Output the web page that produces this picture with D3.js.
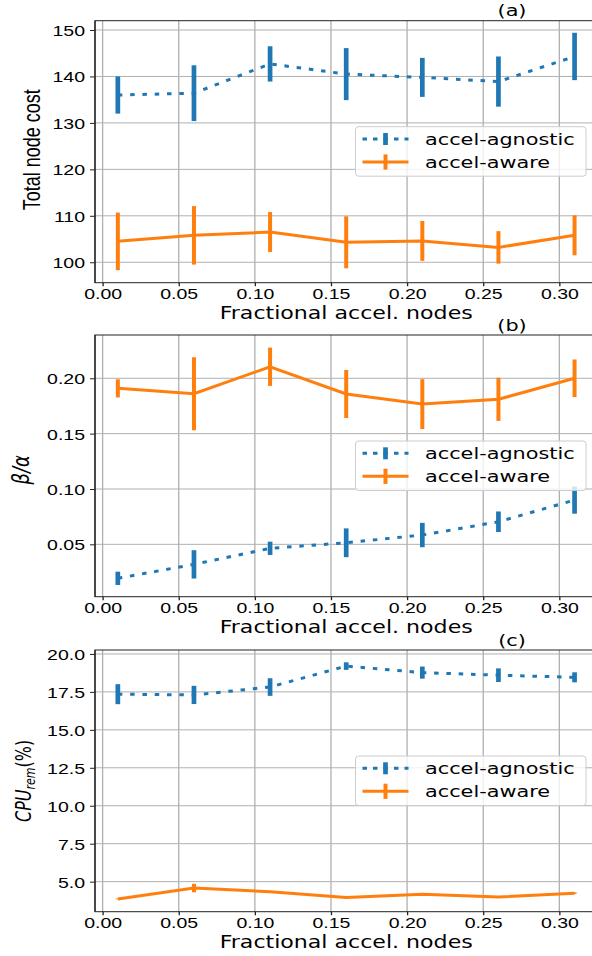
<!DOCTYPE html>
<meta charset="utf-8">
<script src="https://d3js.org/d3.v7.min.js"></script>
<style>
  body { margin: 0; background: #fff; }
</style>
<div id="chart"></div>
<script>

// x positions (fraction of accelerated nodes)
var xs = [0.01, 0.06, 0.11, 0.16, 0.21, 0.26, 0.31];
var xTicks = [0.00, 0.05, 0.10, 0.15, 0.20, 0.25, 0.30];

// (a) total node cost
var costAgnostic    = [136.0, 136.4, 142.7, 140.5, 139.8, 138.9, 144.3];
var costAgnosticErr = [4.0, 6.0, 3.8, 5.6, 4.2, 5.4, 5.1];
var costAware       = [104.5, 105.8, 106.5, 104.3, 104.6, 103.2, 105.8];
var costAwareErr    = [6.2, 6.3, 4.3, 5.6, 4.3, 3.5, 4.3];
var costTicks = [100, 110, 120, 130, 140, 150];

// (b) beta / alpha
var ratioAgnostic    = [0.0193, 0.0319, 0.0464, 0.0514, 0.0584, 0.0704, 0.0900];
var ratioAgnosticErr = [0.0060, 0.0128, 0.0060, 0.0130, 0.0110, 0.0093, 0.0123];
var ratioAware       = [0.1909, 0.1860, 0.2104, 0.1858, 0.1767, 0.1810, 0.2000];
var ratioAwareErr    = [0.0082, 0.0330, 0.0173, 0.0217, 0.0225, 0.0195, 0.0170];
var ratioTicks = [0.05, 0.10, 0.15, 0.20];

// (c) remaining CPU (%)
var cpuAgnostic    = [17.35, 17.30, 17.82, 19.20, 18.77, 18.60, 18.46];
var cpuAgnosticErr = [0.66, 0.60, 0.58, 0.25, 0.40, 0.45, 0.33];
var cpuAware       = [3.86, 4.58, 4.34, 3.95, 4.17, 3.99, 4.24];
var cpuAwareErr    = [0.03, 0.28, 0.05, 0.05, 0.06, 0.05, 0.05];
var cpuTicks = [5.0, 7.5, 10.0, 12.5, 15.0, 17.5, 20.0];

var seriesNames = ["accel-agnostic", "accel-aware"];
var blue = "#1f77b4", orange = "#ff7f0e";

var width = 592, height = 956;
var sx = 1.3;   // the picture is stretched sideways, glyphs too

var svg = d3.select("#chart")
  .append("svg")
    .attr("width", width)
    .attr("height", height)
    .style("font-family", "'DejaVu Sans', sans-serif");

var x = d3.scaleLinear().domain([-0.005, 0.325]).range([95, 597.4]);

var panels = [
  { top: 20.7, bottom: 282.7, domain: [95.6, 152.0], ticks: costTicks, fmt: d3.format("d"),
    title: "(a)", agn: costAgnostic, agnErr: costAgnosticErr, aw: costAware, awErr: costAwareErr },
  { top: 335, bottom: 596.7, domain: [0.0027, 0.2391], ticks: ratioTicks, fmt: d3.format(".2f"),
    title: "(b)", agn: ratioAgnostic, agnErr: ratioAgnosticErr, aw: ratioAware, awErr: ratioAwareErr },
  { top: 650, bottom: 911.7, domain: [3.02, 20.26], ticks: cpuTicks, fmt: d3.format(".1f"),
    title: "(c)", agn: cpuAgnostic, agnErr: cpuAgnosticErr, aw: cpuAware, awErr: cpuAwareErr }
];

function stext(g, px, py, str, size, anchor) {
  return g.append("text")
    .attr("transform", "translate(" + px + "," + py + ") scale(" + sx + ",1)")
    .attr("text-anchor", anchor)
    .style("font-size", size + "px")
    .attr("fill", "#000")
    .text(str);
}

panels.forEach(function(p, i) {
  var g = svg.append("g");
  var y = d3.scaleLinear().domain(p.domain).range([p.bottom, p.top]);
  var x0 = x.range()[0], x1 = x.range()[1];

  // grid
  g.selectAll(".vg").data(xTicks).enter().append("line")
    .attr("x1", function(d) { return x(d); }).attr("x2", function(d) { return x(d); })
    .attr("y1", p.top).attr("y2", p.bottom)
    .attr("stroke", "#b0b0b0").attr("stroke-width", 1.3);
  g.selectAll(".hg").data(p.ticks).enter().append("line")
    .attr("x1", x0).attr("x2", x1)
    .attr("y1", function(d) { return y(d); }).attr("y2", function(d) { return y(d); })
    .attr("stroke", "#b0b0b0").attr("stroke-width", 1);

  // axes
  var ax = g.append("g")
    .attr("transform", "translate(0," + p.bottom + ")")
    .call(d3.axisBottom(x).tickValues(xTicks).tickFormat(d3.format(".2f")).tickSize(3.5).tickSizeOuter(0));
  ax.select(".domain").remove();
  ax.selectAll("line").attr("stroke", "#222").attr("stroke-width", 1.3);
  ax.selectAll("text")
    .attr("y", 16.6).attr("dy", null)
    .attr("transform", "scale(" + sx + ",1)")
    .style("font-size", "15px").attr("font-family", null).attr("fill", "#000");

  var ay = g.append("g")
    .attr("transform", "translate(" + x0 + ",0)")
    .call(d3.axisLeft(y).tickValues(p.ticks).tickFormat(p.fmt).tickSize(5).tickSizeOuter(0));
  ay.select(".domain").remove();
  ay.selectAll("line").attr("stroke", "#222").attr("stroke-width", 1);
  ay.selectAll("text")
    .attr("x", -10 / sx).attr("dy", "0.36em")
    .attr("transform", "scale(" + sx + ",1)")
    .style("font-size", "15px").attr("font-family", null).attr("fill", "#000");

  // spines
  g.append("rect")
    .attr("x", x0).attr("y", p.top)
    .attr("width", x1 - x0).attr("height", p.bottom - p.top)
    .attr("fill", "none").attr("stroke", "#222").attr("stroke-width", 1);
  g.append("line").attr("x1", x0).attr("x2", x0).attr("y1", p.top).attr("y2", p.bottom)
    .attr("stroke", "#222").attr("stroke-width", 1.3);

  // series
  var line = d3.line().x(function(d) { return x(d[0]); }).y(function(d) { return y(d[1]); });
  var series = [
    { vals: p.agn, errs: p.agnErr, color: blue, dash: "4.5,7.8", elw: 4.7 },
    { vals: p.aw, errs: p.awErr, color: orange, dash: null, elw: 4 }
  ];
  series.forEach(function(s) {
    var pts = xs.map(function(v, k) { return [v, s.vals[k]]; });
    g.append("path")
      .attr("d", line(pts))
      .attr("fill", "none")
      .attr("stroke", s.color)
      .attr("stroke-width", 3)
      .attr("stroke-dasharray", s.dash);
    g.selectAll(null).data(xs).enter().append("line")
      .attr("x1", function(d) { return x(d); }).attr("x2", function(d) { return x(d); })
      .attr("y1", function(d, k) { return y(s.vals[k] + s.errs[k]); })
      .attr("y2", function(d, k) { return y(s.vals[k] - s.errs[k]); })
      .attr("stroke", s.color).attr("stroke-width", s.elw);
  });

  // legend
  var lt = p.top + 106;
  var lg = g.append("g");
  lg.append("rect")
    .attr("x", 355.5).attr("y", lt).attr("width", 230.5).attr("height", 49.5)
    .attr("rx", 3).attr("fill", "#fff").attr("fill-opacity", 0.8)
    .attr("stroke", "#cccccc").attr("stroke-width", 1);
  series.forEach(function(s, k) {
    var ry = lt + 12.3 + k * 23;
    lg.append("line").attr("x1", 362.5).attr("x2", 408.5).attr("y1", ry).attr("y2", ry)
      .attr("stroke", s.color).attr("stroke-width", 3).attr("stroke-dasharray", s.dash ? "4.5,6" : null);
    var hh = k === 0 ? 6 : 7.6;
    lg.append("line").attr("x1", 385.5).attr("x2", 385.5).attr("y1", ry - hh).attr("y2", ry + hh)
      .attr("stroke", s.color).attr("stroke-width", s.elw);
    stext(lg, 425, ry + 5.5, seriesNames[k], 16, "start");
  });

  // title and x label
  stext(g, 512, p.top - 4.5, p.title, 16, "middle");
  stext(g, (x0 + x1) / 2, p.bottom + 36.3, "Fractional accel. nodes", 17, "middle");

  // y labels
  var cy = (p.top + p.bottom) / 2;
  if (i === 0) {
    g.append("text")
      .attr("transform", "translate(40," + (cy - 2) + ") scale(" + sx + ",1) rotate(-90)")
      .attr("text-anchor", "middle")
      .style("font-family", "'Liberation Sans', Arial, sans-serif")
      .style("font-size", "18px")
      .text("Total node cost");
  } else if (i === 1) {
    g.append("text")
      .attr("transform", "translate(29," + (cy + 4) + ") scale(" + sx + ",1) rotate(-90)")
      .attr("text-anchor", "middle")
      .style("font-size", "18px")
      .style("font-style", "italic")
      .text("\u03b2/\u03b1");
  } else {
    var t = g.append("text")
      .attr("transform", "translate(31," + (cy + 0) + ") scale(" + sx + ",1) rotate(-90)")
      .attr("text-anchor", "middle")
      .style("font-size", "16px");
    t.append("tspan").style("font-style", "italic").text("CPU");
    t.append("tspan").style("font-style", "italic").style("font-size", "11px").attr("dy", "3").text("rem");
    t.append("tspan").attr("dy", "-3").text("(%)");
  }
});
</script>
